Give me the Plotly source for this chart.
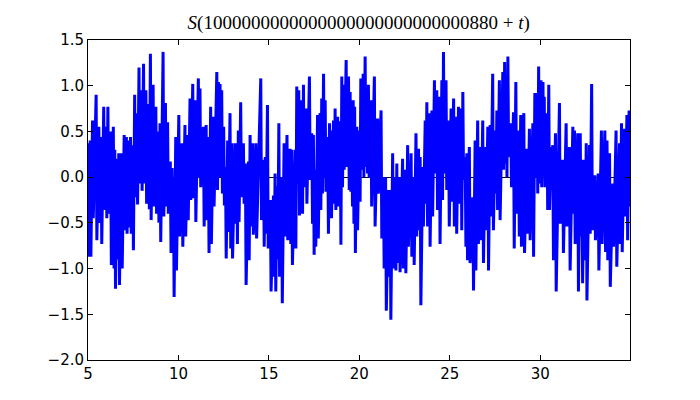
import plotly.graph_objects as go

# Jump (peak) positions and values of S(t)
t_peak = [5.00,5.12,5.25,5.45,5.60,5.72,5.87,6.00,6.10,6.25,6.40,6.48,6.60,6.70,6.85,7.00,7.12,7.25,7.35,7.47,7.58,7.70,7.82,7.95,8.07,8.20,8.35,8.45,
          8.60,8.75,8.88,8.98,9.15,9.28,9.40,9.55,9.65,9.72,9.85,10.02,10.20,10.36,10.50,10.64,10.79,10.92,11.10,11.19,11.38,11.53,11.65,11.78,11.93,12.12,12.21,
          12.30,12.39,12.50,12.60,12.72,12.85,12.95,13.13,13.22,13.31,13.44,13.59,13.70,13.87,13.96,14.10,14.28,14.55,14.70,14.80,14.92,
          15.08,15.25,15.34,15.45,15.55,15.70,15.84,16.00,16.17,16.26,16.45,16.54,16.65,16.82,16.91,17.06,17.24,17.37,17.46,17.55,17.69,17.83,17.92,18.02,18.11,18.25,18.35,18.42,18.57,18.66,18.80,18.94,19.03,19.12,19.27,19.40,19.49,19.58,19.66,19.74,19.86,20.00,20.08,
          20.21,20.32,20.41,20.50,20.64,20.83,21.01,21.20,21.33,21.45,21.61,21.70,21.84,21.98,22.07,22.21,22.39,22.53,22.67,22.86,22.99,23.13,23.27,23.36,23.50,23.64,23.73,23.87,24.01,24.15,24.28,24.42,24.56,24.65,24.79,24.93,
          25.07,25.21,25.34,25.48,25.62,25.72,25.85,25.94,26.08,26.27,26.40,26.54,26.68,26.82,26.96,27.10,27.23,27.37,27.51,27.60,27.74,27.93,28.03,28.12,28.21,28.37,28.52,28.65,28.80,28.92,29.09,29.26,29.40,29.59,
          29.70,29.82,29.91,30.04,30.15,30.22,30.37,30.47,30.59,30.69,30.84,31.06,31.24,31.43,31.61,31.80,31.89,32.07,32.21,32.30,32.44,32.54,32.72,32.84,33.01,33.20,33.38,33.57,33.69,33.83,34.01,34.19,34.38,34.49,34.65,34.79,34.91]
s_peak = [0.37,0.40,0.62,0.90,0.55,0.44,0.77,0.55,0.77,0.50,0.55,0.30,0.20,0.26,0.26,0.46,0.44,0.40,0.44,0.35,0.90,0.70,1.20,0.95,1.24,0.95,0.80,1.35,
          1.01,0.77,0.50,0.59,1.37,0.81,0.60,0.17,0.10,0.00,0.44,0.68,0.37,0.57,0.46,0.86,1.02,0.84,1.08,0.97,0.55,0.57,0.44,0.77,0.66,1.15,1.04,
          1.02,0.95,0.55,0.11,0.40,0.70,0.37,0.37,0.37,0.51,0.82,0.37,0.15,0.17,0.46,0.37,0.37,1.08,0.19,0.22,0.79,
          -0.25,-0.20,0.04,-0.10,0.59,0.00,0.37,0.46,0.31,0.30,0.30,0.99,0.95,0.84,1.01,0.75,1.10,0.48,0.46,0.08,0.68,0.70,0.86,1.13,0.84,0.44,0.59,0.51,0.62,0.75,0.66,0.61,1.10,1.01,1.28,1.10,0.93,0.55,0.84,0.77,0.55,0.51,1.08,
          1.13,1.32,0.88,1.01,0.84,1.10,0.64,0.73,0.00,0.00,-0.14,-0.14,0.26,0.00,0.15,0.00,0.20,0.08,0.35,0.26,0.00,0.48,0.31,0.22,0.11,0.62,0.82,0.70,0.73,1.06,0.95,0.88,1.06,1.37,1.06,0.62,
          0.75,0.86,0.66,0.77,0.75,0.93,0.22,0.26,0.33,-0.22,0.40,0.62,0.33,0.62,0.33,0.55,0.57,1.13,0.51,0.73,1.06,1.15,1.26,0.73,1.32,0.59,0.71,1.04,0.51,0.68,0.70,0.31,0.53,0.59,
          0.92,0.92,1.21,1.06,1.04,0.88,0.70,1.01,0.33,0.35,0.48,0.81,0.19,0.59,0.33,0.55,0.51,0.48,0.48,0.19,0.19,0.37,0.35,1.02,0.02,0.04,0.51,0.51,0.40,0.26,-0.07,0.51,0.37,0.59,0.53,0.68,0.73]

# Trough positions and values (the low end of each descent)
t_trough = [5.04,5.16,5.29,5.49,5.64,5.76,5.91,6.04,6.14,6.29,6.44,6.52,6.64,6.74,6.89,7.04,7.16,7.29,7.39,7.51,7.62,7.74,7.86,7.99,8.11,8.24,8.39,8.49,
            8.64,8.79,8.92,9.02,9.19,9.32,9.44,9.59,9.69,9.76,9.89,10.06,10.24,10.40,10.54,10.68,10.83,10.96,11.14,11.23,11.42,11.57,11.69,11.82,11.97,12.16,12.25,
            12.34,12.43,12.54,12.64,12.76,12.89,12.99,13.17,13.26,13.35,13.48,13.63,13.74,13.91,14.00,14.14,14.32,14.59,14.74,14.84,14.96,
            15.12,15.29,15.38,15.49,15.59,15.74,15.88,16.04,16.21,16.30,16.49,16.58,16.69,16.86,16.95,17.10,17.28,17.41,17.50,17.59,17.73,17.87,17.96,18.06,18.15,18.29,18.39,18.46,18.61,18.70,18.84,18.98,19.07,19.16,19.31,19.44,19.53,19.62,19.70,19.78,19.90,20.04,20.12,
            20.25,20.36,20.45,20.54,20.68,20.87,21.05,21.24,21.37,21.49,21.65,21.74,21.88,22.02,22.11,22.25,22.43,22.57,22.71,22.90,23.03,23.17,23.31,23.40,23.54,23.68,23.77,23.91,24.05,24.19,24.32,24.46,24.60,24.69,24.83,24.97,
            25.11,25.25,25.38,25.52,25.66,25.76,25.89,25.98,26.12,26.31,26.44,26.58,26.72,26.86,27.00,27.14,27.27,27.41,27.55,27.64,27.78,27.97,28.07,28.16,28.25,28.41,28.56,28.69,28.84,28.96,29.13,29.30,29.44,29.63,
            29.74,29.86,29.95,30.08,30.19,30.26,30.41,30.51,30.63,30.73,30.88,31.10,31.28,31.47,31.65,31.84,31.93,32.11,32.25,32.34,32.48,32.58,32.76,32.88,33.05,33.24,33.42,33.61,33.73,33.87,34.05,34.23,34.42,34.53,34.69,34.83,34.95]
s_trough = [-0.87,-0.87,-0.45,-0.69,-0.50,-0.73,-0.36,-0.45,-0.40,-0.96,-1.00,-1.22,-0.90,-1.18,-1.00,-0.58,-0.62,-0.55,-0.62,-0.80,-0.22,-0.30,-0.07,-0.15,-0.07,-0.29,-0.35,-0.47,
            -0.32,-0.40,-0.50,-0.71,-0.43,-0.32,-0.40,-0.83,-0.60,-1.31,-1.02,-0.65,-0.76,-0.65,-0.47,-0.25,-0.23,-0.49,-0.01,-0.11,-0.54,-0.47,-0.83,-0.73,-0.32,-0.14,0.00,
            0.00,-0.18,-0.31,-0.89,-0.60,-0.78,-0.89,-0.51,-0.73,-0.49,-0.22,-0.29,-1.18,-0.91,-0.54,-0.63,-0.67,-0.47,-0.76,-0.62,-0.78,
            -1.25,-1.09,-1.25,-0.90,-1.09,-1.38,-0.65,-0.69,-0.73,-0.96,-0.78,-0.07,-0.42,-0.40,-0.11,-0.29,-0.03,-0.51,-0.85,-0.76,-0.67,-0.36,-0.18,0.00,-0.16,-0.62,-0.32,-0.45,-0.29,-0.36,-0.32,-0.74,-0.11,0.08,0.11,-0.14,-0.16,-0.32,-0.51,-0.83,-0.58,-0.27,0.08,
            0.00,0.11,0.04,-0.01,-0.32,-0.54,-0.18,-0.67,-1.00,-1.46,-1.09,-1.56,-1.00,-1.02,-0.94,-1.04,-1.00,-1.05,-0.76,-0.87,-0.96,-0.65,-0.58,-1.40,-0.54,-0.29,-0.54,-0.76,-0.43,0.04,-0.36,-0.73,-0.25,0.04,-0.14,-0.54,
            -0.27,-0.54,-0.62,-0.29,-0.58,-0.03,-0.76,-0.91,-0.94,-1.24,-1.02,-0.73,-0.69,-0.94,-0.58,-1.02,-0.43,-0.58,-0.18,-0.36,-0.47,0.08,0.15,0.00,0.22,-0.11,-0.78,-0.40,-0.65,-0.76,-0.83,-0.62,-0.69,-0.87,
            0.00,-0.18,-0.07,-0.11,0.08,-0.11,-0.36,-0.36,-0.14,-0.91,-1.25,-0.51,-0.83,-0.54,-1.02,-0.40,-0.73,-1.25,-0.65,-1.16,-0.91,-1.35,-0.62,-0.58,-0.69,-1.02,-0.73,-0.82,-0.91,-1.20,-0.76,-0.98,-0.73,-0.82,-0.43,-0.69,-0.32]

x_ticks = [5, 10, 15, 20, 25, 30]
y_ticks = [-2.0, -1.5, -1.0, -0.5, 0.0, 0.5, 1.0, 1.5]
x_range = [5, 34.96]
y_range = [-2.0, 1.5]
title_text = "<i>S</i>(1" "000000000" "000000000" "000000000" "880 + <i>t</i>)"

t_all, s_all = [], []
for tp, sp, tt, st in zip(t_peak, s_peak, t_trough, s_trough):
    t_all += [tp, tt]
    s_all += [sp, st]

fig = go.Figure()
fig.add_trace(go.Scatter(x=t_all, y=s_all, mode="lines",
                         line=dict(color="#0000ff", width=3), hoverinfo="skip"))

axis_common = dict(showline=True, linecolor="black", linewidth=1, mirror="ticks",
                   ticks="inside", ticklen=5, tickwidth=1, tickcolor="black",
                   showgrid=False, automargin=False,
                   tickfont=dict(family="DejaVu Sans", size=15, color="black"))

fig.update_xaxes(range=x_range, tickvals=x_ticks, zeroline=False, **axis_common)
fig.update_yaxes(range=y_range, tickvals=y_ticks, tickformat=".1f",
                 zeroline=True, zerolinecolor="black", zerolinewidth=1, **axis_common)

# the page adds an 8px body margin, so the figure is offset by 8px
fig.update_layout(
    width=700, height=400,
    margin=dict(l=80, r=78, t=32, b=48),
    paper_bgcolor="white", plot_bgcolor="white",
    showlegend=False,
    title=dict(text=title_text, x=0.501, xanchor="center", xref="container",
               y=0.965, yanchor="middle", yref="container",
               font=dict(family="Liberation Serif", size=19, color="black")),
)

fig.write_html("out.html")
